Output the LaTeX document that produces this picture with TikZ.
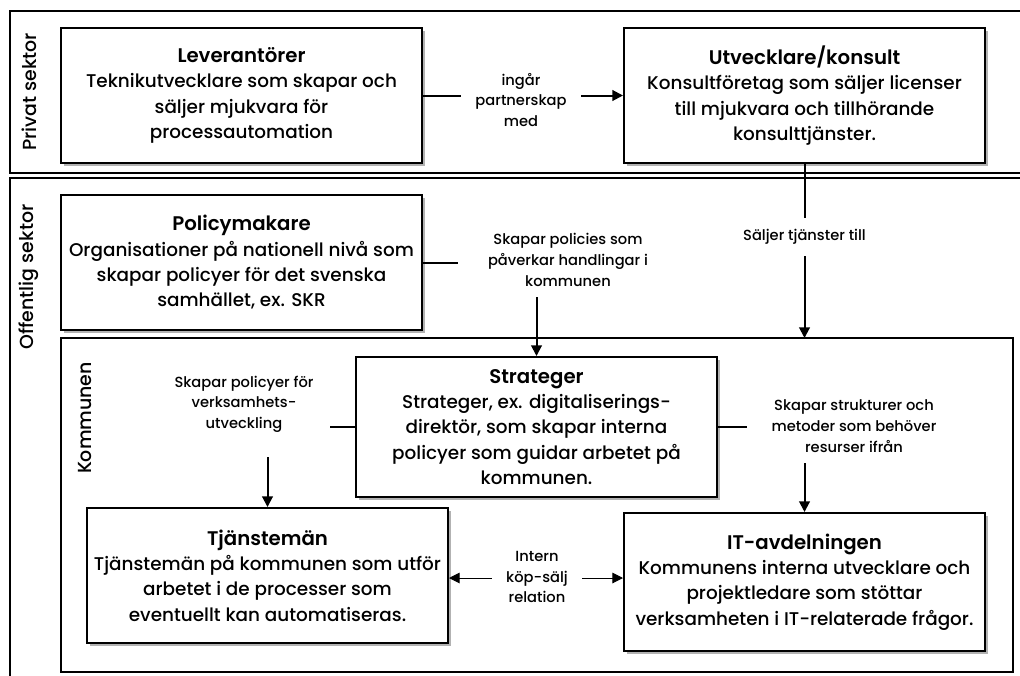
\documentclass[tikz,border=0pt]{standalone}
\usepackage{fontspec}
\setmainfont{Poppins}[UprightFont={* Medium}, BoldFont={* SemiBold}]
\usetikzlibrary{arrows.meta,shadows}
\def\px{0.75pt}
\begin{document}
\begin{tikzpicture}[x=0.75pt,y=-0.75pt,
  sectorbox/.style={draw=black, line width=1.5pt},
  entity/.style={draw=black, line width=1.5pt, fill=white, align=center, inner sep=0pt,
    font=\fontsize{13.8}{19}\selectfont,
    drop shadow={shadow xshift=2.5pt, shadow yshift=-2.5pt, fill=black, opacity=0.3}},
  ttl/.style={font=\fontsize{14.8}{19}\selectfont\bfseries},
  lbl/.style={fill=white, align=center, inner sep=0pt, font=\fontsize{11}{15.5}\selectfont},
  conn/.style={line width=1.5pt, -{Triangle[length=8pt,width=8pt]}},
  thinconn/.style={line width=0.75pt, {Triangle[length=8pt,width=8pt]}-{Triangle[length=8pt,width=8pt]}},
  sectxt/.style={rotate=90, font=\fontsize{14.2}{16}\selectfont}
]
\useasboundingbox (0,0) rectangle (1020,675);
\clip (0,0) rectangle (1020,675);
\fill[white] (0,0) rectangle (1020,675);

% sectors
\draw[sectorbox] (10,11) rectangle (1040,173);
\draw[sectorbox] (10,178) rectangle (1040,700);
\draw[sectorbox, fill=white] (61,338) rectangle (1013,672);
\node[sectxt] (tpriv) at (29,92) {Privat sektor};
\node[sectxt] (toff) at (29,277) {Offentlig sektor};
\node[sectxt] (tkom) at (85,418) {Kommunen};

% entities
\node[entity, minimum width=361*\px, minimum height=135*\px] (lev) at (241.5,95.5)
  {{\fontsize{14.8}{19}\selectfont\bfseries Leverantörer}\\Teknikutvecklare som skapar och\\säljer mjukvara för\\processautomation};
\node[entity, minimum width=361*\px, minimum height=135*\px] (uk) at (804.5,95.5)
  {{\fontsize{14.8}{19}\selectfont\bfseries Utvecklare/konsult}\\Konsultföretag som säljer licenser\\till mjukvara och tillhörande\\konsulttjänster.};
\node[entity, minimum width=361*\px, minimum height=135*\px] (pol) at (241.5,262.5)
  {{\fontsize{14.8}{19}\selectfont\bfseries Policymakare}\\Organisationer på nationell nivå som\\skapar policyer för det svenska\\samhället, ex. SKR};
\node[entity, minimum width=361*\px, minimum height=140*\px] (str) at (536.5,427)
  {{\fontsize{14.8}{19}\selectfont\bfseries Strateger}\\Strateger, ex. digitaliserings-\\direktör, som skapar interna\\policyer som guidar arbetet på\\kommunen.};
\node[entity, minimum width=361*\px, minimum height=135*\px] (tj) at (267.5,575.5)
  {{\fontsize{14.8}{19}\selectfont\bfseries Tjänstemän}\\Tjänstemän på kommunen som utför\\arbetet i de processer som\\eventuellt kan automatiseras.};
\node[entity, minimum width=361*\px, minimum height=138*\px] (it) at (804.5,582)
  {{\fontsize{14.8}{19}\selectfont\bfseries IT-avdelningen}\\Kommunens interna utvecklare och\\projektledare som stöttar\\verksamheten i IT-relaterade frågor.};

% connectors
\draw[conn] (lev.east) -- (uk.west);
\draw[conn] (uk.south) -- (uk.south |- 0,338);
\draw[conn] (pol.east) -| (str.north);
\draw[conn] (str.west) -| (tj.north);
\draw[conn] (str.east) -| (it.north);
\coordinate (im) at (537,578);
\draw[thinconn] (im -| tj.east) -- (im -| it.west);

% labels
\node[lbl, minimum width=120*\px, minimum height=60*\px] (l1) at (521,100) {ingår\\partnerskap\\med};
\node[lbl, minimum width=140*\px, minimum height=38*\px] (l2) at (804.5,237) {Säljer tjänster till};
\node[lbl, minimum width=220*\px, minimum height=74*\px] (l3) at (568,260) {Skapar policies som\\påverkar handlingar i\\kommunen};
\node[lbl, minimum width=172*\px, minimum height=106*\px] (l4) at (244,404) {Skapar policyer för\\verksamhets-\\utveckling};
\node[lbl, minimum width=214*\px, minimum height=74*\px] (l5) at (854,426) {Skapar strukturer och\\metoder som behöver\\resurser ifrån};
\node[lbl, minimum width=90*\px, minimum height=60*\px] (l6) at (537,577) {Intern\\köp-sälj\\relation};
\end{tikzpicture}
\end{document}
